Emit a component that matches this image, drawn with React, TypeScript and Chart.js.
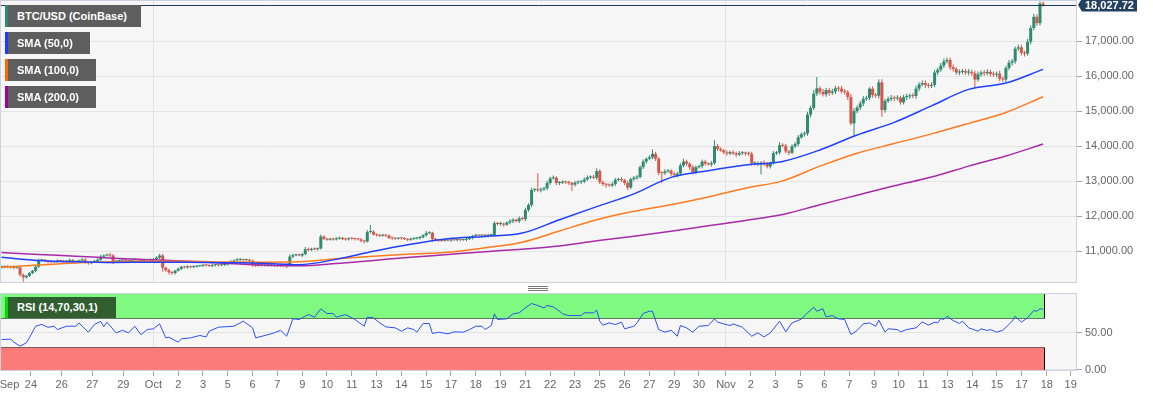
import { useEffect, useRef } from 'react';
import { Chart, registerables } from 'chart.js';

Chart.register(...registerables);

// ---------- DATA (4h candles, Sep 22 20:00 -> Nov 17 20:00) ----------
const firstOpen = 10550;
const closes = [
  10560,10570,10540,10560,10530,10540,10330,10260,10300,10380,
  10440,10560,10740,10760,10720,10700,10690,10710,10740,10720,
  10700,10730,10750,10720,10700,10740,10760,10680,10660,10700,
  10720,10760,10850,10880,10900,10880,10700,10720,10740,10760,
  10730,10720,10750,10770,10740,10720,10750,10760,10740,10780,
  10820,10880,10530,10460,10400,10380,10450,10500,10560,10540,
  10570,10550,10560,10580,10590,10610,10600,10580,10610,10620,
  10600,10610,10630,10660,10700,10740,10760,10770,10750,10760,
  10730,10600,10590,10610,10590,10600,10620,10600,10580,10610,
  10600,10620,10600,10850,10890,10900,10880,10920,11060,11040,
  11070,11060,11080,11420,11360,11330,11350,11340,11360,11380,
  11350,11340,11370,11360,11350,11340,11300,11280,11550,11560,
  11480,11460,11440,11470,11450,11380,11370,11360,11380,11370,
  11350,11330,11350,11370,11380,11400,11460,11520,11530,11350,
  11330,11310,11300,11320,11310,11330,11320,11340,11320,11330,
  11350,11380,11440,11460,11450,11470,11440,11460,11470,11800,
  11780,11790,11760,11820,11860,11900,11860,11940,11920,12180,
  12320,12750,12760,12740,12770,12800,12950,13080,13100,12950,
  12960,12980,12970,12950,12900,12960,12980,12990,13050,13110,
  13120,13100,13290,12970,12920,12900,12880,12920,13040,13060,
  13030,12950,12820,13060,13100,13120,13400,13560,13640,13680,
  13780,13640,13240,13230,13280,13300,13210,13180,13220,13450,
  13560,13500,13400,13250,13400,13430,13560,13500,13480,13520,
  14000,13920,13880,13820,13790,13830,13800,13760,13800,13810,
  13790,13780,13510,13520,13480,13530,13500,13420,13520,13800,
  13820,14030,14010,13850,13810,14000,14060,14250,14340,14360,
  14900,15090,15500,15650,15550,15480,15600,15520,15560,15650,
  15640,15560,15540,15400,14650,15000,15100,15220,15350,15380,
  15640,15460,15440,15820,15030,15290,15350,15380,15360,15380,
  15250,15400,15420,15440,15430,15640,15760,15800,15740,15720,
  15750,16100,16180,16300,16420,16460,16250,16200,16100,16120,
  16140,16100,16120,16080,15900,16050,16100,16080,16120,16060,
  16040,16070,15920,15900,16230,16380,16420,16780,16820,16660,
  16640,16980,17370,17690,17510,18070,18027.72,
];
const upperWicks = [
  30,20,40,25,30,20,30,40,20,30,
  30,40,50,30,20,30,40,20,30,20,
  30,20,40,30,20,30,40,50,30,20,
  30,40,50,30,40,60,40,30,20,30,
  30,20,30,40,20,30,30,20,40,30,
  40,50,40,30,40,30,20,40,30,20,
  30,20,40,30,20,30,20,30,40,20,
  30,40,30,40,50,30,40,30,20,30,
  30,40,20,30,20,30,40,20,30,20,
  30,20,40,60,40,30,40,30,60,40,
  30,40,30,60,40,30,40,30,50,40,
  30,40,30,40,30,30,40,30,60,190,
  40,30,40,30,20,30,40,30,20,30,
  30,20,40,30,30,40,30,60,40,30,
  30,20,40,30,30,20,40,30,20,30,
  30,40,30,40,30,20,30,40,30,60,
  40,50,30,40,60,40,30,50,40,60,
  50,60,40,470,50,40,60,50,60,40,
  40,50,30,40,30,40,50,40,60,50,
  40,60,80,50,40,30,40,60,50,40,
  50,40,60,40,50,60,50,60,40,60,
  130,60,50,40,60,50,40,60,50,60,
  80,50,40,60,50,40,60,50,40,60,
  170,60,50,40,60,40,50,40,60,50,
  40,50,60,40,50,40,60,50,40,60,
  40,90,50,60,40,50,60,70,50,60,
  80,70,100,320,60,80,70,60,80,70,
  60,80,70,60,90,80,60,70,80,60,
  40,70,60,80,90,60,70,80,60,70,
  60,70,80,60,70,80,60,70,80,60,
  70,80,60,70,80,60,70,80,60,70,
  60,70,80,60,70,80,60,70,80,60,
  70,60,80,70,60,80,70,60,80,70,
  60,80,70,90,70,60,60,
];
const lowerWicks = [
  30,40,20,30,40,30,50,130,40,30,
  30,40,30,20,30,40,20,30,40,30,
  20,30,40,30,20,30,40,30,40,30,
  30,40,30,20,30,40,60,30,20,30,
  40,30,20,30,40,30,20,30,40,30,
  30,40,110,40,60,50,40,30,40,30,
  30,40,30,20,30,40,30,20,30,40,
  30,20,30,40,30,20,30,40,30,20,
  30,40,40,30,20,30,40,30,20,30,
  40,30,80,30,40,30,20,40,30,40,
  30,20,40,30,40,30,20,40,30,20,
  30,40,30,20,40,30,40,60,30,40,
  30,40,30,20,40,30,40,30,20,40,
  30,40,30,20,30,40,30,40,30,70,
  30,40,30,20,30,40,30,40,30,20,
  40,30,40,30,20,40,30,40,30,40,
  40,50,60,40,50,60,40,50,40,60,
  50,60,50,40,60,50,60,50,40,60,
  60,40,50,60,180,50,40,60,50,40,
  50,40,60,50,60,80,40,50,60,40,
  50,60,70,40,50,60,40,50,60,40,
  50,60,70,280,50,40,60,50,70,40,
  50,60,70,60,50,40,60,50,40,60,
  50,60,40,50,60,40,50,60,40,50,
  60,50,70,60,50,280,60,50,60,40,
  50,60,40,50,60,40,50,60,40,70,
  60,80,60,70,80,60,70,80,60,70,
  80,60,70,80,50,350,60,70,80,60,
  70,80,60,70,190,80,60,70,80,60,
  70,60,80,70,60,80,70,60,80,70,
  60,70,80,60,70,60,80,70,60,80,
  70,60,80,70,220,60,70,80,60,70,
  60,80,70,60,70,60,80,70,60,70,
  80,60,70,60,80,70,40,
];

const smaAt = [0,12,24,36,48,60,72,84,96,108,120,132,144,156,168,180,192,204,216,228,240,252,264,276,288,300,312,324,336];
const sma50 = [10830,10740,10700,10680,10690,10685,10675,10660,10620,10770,11000,11200,11360,11425,11520,11900,12275,12640,13110,13300,13460,13565,13890,14320,14680,15150,15620,15800,16190];
const sma100 = [10545,10610,10670,10700,10715,10715,10695,10690,10700,10790,10860,10920,10970,11100,11260,11580,11900,12140,12330,12550,12800,13010,13430,13800,14075,14350,14650,14960,15410];
const sma200 = [10965,10910,10860,10805,10760,10720,10660,10610,10585,10650,10740,10830,10910,10990,11060,11150,11300,11430,11570,11730,11880,12050,12330,12600,12870,13120,13430,13720,14060];

const rsiAt = [
  0,3,4,6,8,9,11,13,15,17,18,21,24,25,28,30,32,33,34,37,39,41,43,45,47,49,51,53,54,57,58,61,64,66,67,70,75,78,81,82,85,88,90,92,94,96,99,101,103,105,107,108,111,114,117,118,120,122,124,127,
  129,131,133,134,136,138,139,141,144,146,149,151,153,155,156,158,159,160,163,165,167,169,171,173,175,176,178,180,181,183,187,188,191,192,193,194,196,198,200,201,204,205,207,209,210,212,214,216,218,219,221,223,225,228,230,231,235,236,239,242,244,246,248,251,253,255,
  258,260,262,263,265,266,268,270,272,274,276,278,280,282,283,285,286,289,290,292,295,297,299,301,302,303,304,305,307,309,310,312,315,316,318,319,321,323,325,326,327,329,331,333,334,335,336,
];
const rsiValues = [
  40.5,41,37,31.5,36,43,58.5,61,57,58.5,54,58.5,58.5,63,50.5,61,65,58,64,49.5,53,49.5,58.5,47,54,55,61.7,42.8,43.7,37,41.4,42.8,46,44,51.8,57.2,58.5,65.3,56.3,42.8,46,49.5,53,45,68.5,67.6,74.3,70.7,82,75.7,75.7,70.7,74.3,67.6,58.5,70.7,69.8,63,57.6,56.3,
  51.8,56.3,54,50.5,62.2,62.2,48.6,50.5,48.2,50.9,50.5,54,58.5,58.5,54,59.4,75.2,67.6,68.5,75.2,76.6,83.3,89.2,86.5,83.3,86.5,84.7,78.8,75.2,72.9,72.9,76.6,76.6,80.2,65.3,59.9,63,60.8,64,55,58.5,63,75.7,78.8,78.8,54,50.5,53,45,59.4,56.3,50.5,58.5,59.4,68.5,64,59.4,61.7,57.2,45,49.5,44.1,49.5,65.3,50.9,63,
  68,76.6,84.2,78.8,82,71.1,72.9,68.5,67.6,47.3,52.7,61.7,63,58.5,66.7,50.5,55,54,50.9,54,56.3,64.4,59.9,64,63,69,67.6,72,66.2,62.2,65.3,56.3,51.8,55,52.7,54,50.5,53,60.8,65.3,72,64,69.8,79.7,78.8,82.4,81,
];

const tickLabels = ['Sep','24','26','27','29','Oct','2','3','5','6','7','9','10','11','13','14','15','17','18','19','21','22','23','25','26','27','29','30','Nov','2','3','5','6','7','9','10','11','13','14','15','17','18','19'];
const tickAt = [2.6,9.5,19.4,29.3,39.3,49,57,65,73,81,89,97,105,113,121,129,137,145,153,161,169,177,185,193,201,209,217,225,233.7,241.7,249.7,257.6,265.4,273.5,281.5,289.4,297.3,305.2,313.2,321.1,329.1,337.2,344.9];
const priceTicks = [11000,12000,13000,14000,15000,16000,17000];
const rsiTicks = [0,50];
const rsiUpper = 70;
const rsiLower = 30;
const legendLabels = ['BTC/USD (CoinBase)','SMA (50,0)','SMA (100,0)','SMA (200,0)'];
const rsiLabel = 'RSI (14,70,30,1)';

// ---------- derived ----------
const opens = closes.map((c, i) => (i === 0 ? firstOpen : closes[i - 1]));
const highs = closes.map((c, i) => Math.max(opens[i], c) + upperWicks[i]);
const lows = closes.map((c, i) => Math.min(opens[i], c) - lowerWicks[i]);
const lastIndex = closes.length - 1;
const lastClose = closes[lastIndex];

// ---------- styles ----------
const FONT = 'Arial, "Liberation Sans", sans-serif';
const UP = '#2f8a6f';
const DOWN = '#d6564a';
const C50 = '#1f3fff';
const C100 = '#ff7a1e';
const C200 = '#a82aa8';
const X_MIN = -0.484;
const X_MAX = 346.94;
const AXIS_W = 76;

const fmt2 = (v: number) =>
  Number(v).toLocaleString('en-US', { minimumFractionDigits: 2, maximumFractionDigits: 2 });

const monthGrid = (ctx: any) => {
  const l = tickLabels[ctx.index];
  return l === 'Oct' || l === 'Nov' ? '#e2e2e2' : 'rgba(0,0,0,0)';
};

const setXTicks = (s: any) => {
  s.ticks = tickAt.map((v) => ({ value: v }));
};

const panelPlugin = {
  id: 'panel',
  beforeDraw(chart: any) {
    const { ctx, chartArea: a } = chart;
    ctx.save();
    ctx.fillStyle = '#f6f6f6';
    ctx.fillRect(a.left, a.top, a.right - a.left, a.bottom - a.top);
    ctx.restore();
  },
  afterDraw(chart: any) {
    const { ctx, chartArea: a } = chart;
    ctx.save();
    ctx.strokeStyle = '#ccd2e4';
    ctx.lineWidth = 1;
    ctx.strokeRect(a.left + 0.5, a.top + 0.5, a.right - a.left - 1, a.bottom - a.top - 1);
    ctx.restore();
  },
};

const pricePlugin = {
  id: 'price',
  afterDatasetsDraw(chart: any) {
    const { ctx, chartArea: a } = chart;
    const y = Math.round(chart.scales.y.getPixelForValue(lastClose)) + 0.5;
    ctx.save();
    ctx.strokeStyle = '#1f3a5f';
    ctx.lineWidth = 1;
    ctx.beginPath();
    ctx.moveTo(a.left, y);
    ctx.lineTo(a.right, y);
    ctx.stroke();
    ctx.restore();
  },
  afterDraw(chart: any) {
    const { ctx, chartArea: a } = chart;
    const y = chart.scales.y.getPixelForValue(lastClose);
    const x0 = a.right + 1;
    const h = 13;
    ctx.save();
    ctx.fillStyle = '#24405f';
    ctx.beginPath();
    ctx.moveTo(x0, y);
    ctx.lineTo(x0 + 4, y - h / 2);
    ctx.lineTo(x0 + 59, y - h / 2);
    ctx.lineTo(x0 + 59, y + h / 2);
    ctx.lineTo(x0 + 4, y + h / 2);
    ctx.closePath();
    ctx.fill();
    ctx.fillStyle = '#ffffff';
    ctx.font = `bold 11px ${FONT}`;
    ctx.textBaseline = 'middle';
    ctx.textAlign = 'left';
    ctx.fillText(fmt2(lastClose), x0 + 7, y + 0.5);
    ctx.restore();
  },
};

const zonePlugin = {
  id: 'zones',
  beforeDatasetsDraw(chart: any) {
    const { ctx, chartArea: a, scales } = chart;
    const x0 = a.left + 0.5;
    const x1 = Math.round(scales.x.getPixelForValue(lastIndex)) + 1.5;
    const y70 = Math.round(scales.y.getPixelForValue(rsiUpper)) + 0.5;
    const y30 = Math.round(scales.y.getPixelForValue(rsiLower)) + 0.5;
    const top = a.top + 1;
    const bottom = a.bottom - 1;
    ctx.save();
    ctx.fillStyle = '#7ff97f';
    ctx.fillRect(x0, top, x1 - x0, y70 - top);
    ctx.fillStyle = '#fb7b7b';
    ctx.fillRect(x0, y30, x1 - x0, bottom - y30);
    ctx.strokeStyle = '#000';
    ctx.lineWidth = 1;
    ctx.setLineDash([1, 1]);
    ctx.beginPath();
    ctx.moveTo(x0, y70);
    ctx.lineTo(x1, y70);
    ctx.moveTo(x0, y30);
    ctx.lineTo(x1, y30);
    ctx.stroke();
    ctx.setLineDash([]);
    ctx.beginPath();
    ctx.moveTo(x1, top);
    ctx.lineTo(x1, y70);
    ctx.moveTo(x1, y30);
    ctx.lineTo(x1, bottom);
    ctx.moveTo(x0, top);
    ctx.lineTo(x0, y70);
    ctx.moveTo(x0, y30);
    ctx.lineTo(x0, bottom);
    ctx.stroke();
    ctx.restore();
  },
};

function MainChart() {
  const ref = useRef<HTMLCanvasElement | null>(null);
  useEffect(() => {
    if (!ref.current) return;
    const idx = closes.map((_, i) => i);
    const chart = new Chart(ref.current, {
      type: 'bar',
      data: {
        datasets: [
          {
            type: 'line',
            data: smaAt.map((x, i) => ({ x, y: sma50[i] })),
            borderColor: C50,
            borderWidth: 1.5,
            pointRadius: 0,
            cubicInterpolationMode: 'monotone',
            order: 0,
          } as any,
          {
            type: 'line',
            data: smaAt.map((x, i) => ({ x, y: sma100[i] })),
            borderColor: C100,
            borderWidth: 1.5,
            pointRadius: 0,
            cubicInterpolationMode: 'monotone',
            order: 0,
          } as any,
          {
            type: 'line',
            data: smaAt.map((x, i) => ({ x, y: sma200[i] })),
            borderColor: C200,
            borderWidth: 1.5,
            pointRadius: 0,
            cubicInterpolationMode: 'monotone',
            order: 0,
          } as any,
          {
            type: 'bar',
            data: idx.map((i) => ({ x: i, y: [opens[i], closes[i]] })),
            backgroundColor: (c: any) => (closes[c.dataIndex] >= opens[c.dataIndex] ? UP : DOWN),
            barThickness: 3,
            minBarLength: 1,
            grouped: false,
            inflateAmount: 0,
            borderWidth: 0,
            order: 1,
          } as any,
          {
            type: 'bar',
            data: idx.map((i) => ({ x: i, y: [lows[i], highs[i]] })),
            backgroundColor: (c: any) => (closes[c.dataIndex] >= opens[c.dataIndex] ? UP : DOWN),
            barThickness: 1,
            grouped: false,
            inflateAmount: 0,
            borderWidth: 0,
            order: 2,
          } as any,
        ],
      },
      options: {
        responsive: false,
        devicePixelRatio: 1,
        animation: false,
        events: [],
        layout: { padding: 0 },
        plugins: { legend: { display: false }, tooltip: { enabled: false } },
        scales: {
          x: {
            type: 'linear',
            min: X_MIN,
            max: X_MAX,
            offset: false,
            grid: { offset: false, color: monthGrid, drawTicks: false },
            border: { display: false },
            ticks: { display: false },
            afterBuildTicks: setXTicks,
            afterFit: (s: any) => {
              s.height = 4;
              s.paddingLeft = 0;
              s.paddingRight = 0;
            },
          },
          y: {
            type: 'linear',
            position: 'right',
            min: 10096,
            max: 18170,
            beginAtZero: false,
            grid: { color: '#e4e4e4', tickLength: 5, tickColor: '#a0a6b8' },
            border: { display: false },
            ticks: {
              color: '#666',
              font: { size: 11, family: FONT },
              padding: 3,
              callback: (v: any) => fmt2(v),
            },
            afterBuildTicks: (s: any) => {
              s.ticks = priceTicks.map((v) => ({ value: v }));
            },
            afterFit: (s: any) => {
              s.width = AXIS_W;
              s.paddingTop = 0;
              s.paddingBottom = 0;
            },
          },
        },
      } as any,
      plugins: [panelPlugin, pricePlugin],
    });
    return () => chart.destroy();
  }, []);
  return (
    <canvas
      ref={ref}
      width={1153}
      height={287}
      style={{ position: 'absolute', left: 0, top: 0, width: 1153, height: 287 }}
    />
  );
}

function RsiChart() {
  const ref = useRef<HTMLCanvasElement | null>(null);
  useEffect(() => {
    if (!ref.current) return;
    const chart = new Chart(ref.current, {
      type: 'line',
      data: {
        datasets: [
          {
            data: rsiAt.map((x, i) => ({ x, y: rsiValues[i] })),
            borderColor: '#2d50f2',
            borderWidth: 1,
            pointRadius: 0,
            tension: 0,
          },
        ],
      },
      options: {
        responsive: false,
        devicePixelRatio: 1,
        animation: false,
        events: [],
        layout: { padding: { top: 6, left: 0, right: 0, bottom: 0 } },
        plugins: { legend: { display: false }, tooltip: { enabled: false } },
        scales: {
          x: {
            type: 'linear',
            min: X_MIN,
            max: X_MAX,
            offset: false,
            grid: {
              offset: false,
              color: monthGrid,
              drawTicks: true,
              tickLength: 5,
              tickColor: (c: any) => (c.index === 0 ? 'rgba(0,0,0,0)' : '#a8a8a8'),
            },
            border: { display: false },
            ticks: {
              color: '#666',
              font: { size: 11, family: FONT },
              padding: 2,
              autoSkip: false,
              maxRotation: 0,
              minRotation: 0,
              callback: (_v: any, i: number) => tickLabels[i],
            },
            afterBuildTicks: setXTicks,
            afterFit: (s: any) => {
              s.height = 27;
              s.paddingLeft = 0;
              s.paddingRight = 0;
            },
          },
          y: {
            type: 'linear',
            position: 'right',
            min: -2,
            max: 103.4,
            grid: { color: '#e3e3e3', tickLength: 5, tickColor: '#a0a6b8' },
            border: { display: false },
            ticks: {
              color: '#666',
              font: { size: 11, family: FONT },
              padding: 3,
              callback: (v: any) => Number(v).toFixed(2),
            },
            afterBuildTicks: (s: any) => {
              s.ticks = rsiTicks.map((v) => ({ value: v }));
            },
            afterFit: (s: any) => {
              s.width = AXIS_W;
              s.paddingTop = 0;
              s.paddingBottom = 0;
            },
          },
        },
      } as any,
      plugins: [panelPlugin, zonePlugin],
    });
    return () => chart.destroy();
  }, []);
  return (
    <canvas
      ref={ref}
      width={1153}
      height={111}
      style={{ position: 'absolute', left: 0, top: 287, width: 1153, height: 111 }}
    />
  );
}

const legendColors = ['#2e8b70', '#1a3cff', '#ff6a00', '#a0009f'];
const legendWidths = [136, 85, 91, 91];

export default function App() {
  return (
    <div
      style={{
        position: 'fixed',
        left: 0,
        top: 0,
        width: 1153,
        height: 398,
        background: '#ffffff',
        overflow: 'hidden',
        fontFamily: FONT,
      }}
    >
      <MainChart />
      <RsiChart />
      {legendLabels.map((t, i) => (
        <div
          key={t}
          style={{
            position: 'absolute',
            left: 5,
            top: 5 + i * 27,
            width: legendWidths[i],
            height: 22,
            boxSizing: 'border-box',
            background: '#5e5e5e',
            borderLeft: `3px solid ${legendColors[i]}`,
            color: '#ffffff',
            fontSize: 11,
            fontWeight: 'bold',
            lineHeight: '22px',
            paddingLeft: 9,
            whiteSpace: 'nowrap',
          }}
        >
          {t}
        </div>
      ))}
      <div
        style={{
          position: 'absolute',
          left: 5,
          top: 297,
          width: 111,
          height: 21,
          boxSizing: 'border-box',
          background: '#305e30',
          borderLeft: '3px solid #00dd00',
          color: '#ffffff',
          fontSize: 11,
          fontWeight: 'bold',
          lineHeight: '21px',
          paddingLeft: 9,
          whiteSpace: 'nowrap',
        }}
      >
        {rsiLabel}
      </div>
      {[286, 288, 290].map((y) => (
        <div
          key={y}
          style={{ position: 'absolute', left: 528, top: y, width: 20, height: 1, background: '#7a7a7a' }}
        />
      ))}
    </div>
  );
}
